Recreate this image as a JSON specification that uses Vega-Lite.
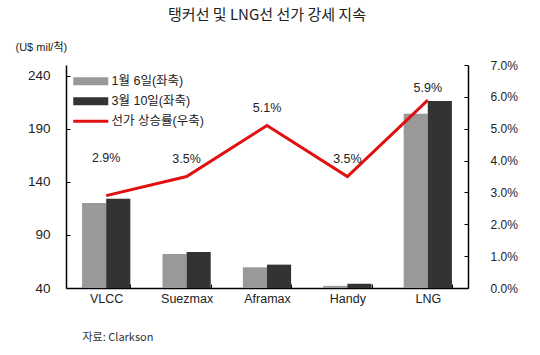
{
  "$schema": "https://vega.github.io/schema/vega-lite/v6.json",
  "width": 402,
  "height": 223,
  "autosize": "none",
  "padding": {"left": 66, "top": 65, "right": 72, "bottom": 67},
  "background": "white",
  "title": {
    "text": "탱커선 및 LNG선 선가 강세 지속",
    "font": "Noto Sans CJK KR",
    "fontSize": 15,
    "fontWeight": "normal",
    "color": "#222222",
    "anchor": "middle",
    "offset": 18
  },
  "datasets": {
    "bars": [
      {"ship": "VLCC", "series": "1월 6일(좌축)", "price": 120},
      {"ship": "VLCC", "series": "3월 10일(좌축)", "price": 124},
      {"ship": "Suezmax", "series": "1월 6일(좌축)", "price": 72},
      {"ship": "Suezmax", "series": "3월 10일(좌축)", "price": 74},
      {"ship": "Aframax", "series": "1월 6일(좌축)", "price": 59.5},
      {"ship": "Aframax", "series": "3월 10일(좌축)", "price": 62},
      {"ship": "Handy", "series": "1월 6일(좌축)", "price": 42},
      {"ship": "Handy", "series": "3월 10일(좌축)", "price": 44},
      {"ship": "LNG", "series": "1월 6일(좌축)", "price": 204},
      {"ship": "LNG", "series": "3월 10일(좌축)", "price": 216}
    ],
    "rate": [
      {"ship": "VLCC", "series": "선가 상승률(우축)", "rate": 0.029},
      {"ship": "Suezmax", "series": "선가 상승률(우축)", "rate": 0.035},
      {"ship": "Aframax", "series": "선가 상승률(우축)", "rate": 0.051},
      {"ship": "Handy", "series": "선가 상승률(우축)", "rate": 0.035},
      {"ship": "LNG", "series": "선가 상승률(우축)", "rate": 0.059}
    ]
  },
  "config": {
    "view": {"stroke": null},
    "axis": {
      "grid": false,
      "domainColor": "#000000",
      "tickColor": "#000000",
      "labelColor": "#222222",
      "labelFont": "Liberation Sans",
      "labelFontSize": 12.5
    }
  },
  "encoding": {
    "x": {
      "field": "ship",
      "type": "nominal",
      "sort": ["VLCC", "Suezmax", "Aframax", "Handy", "LNG"],
      "scale": {"paddingInner": 0.4, "paddingOuter": 0.2},
      "axis": {
        "labelAngle": 0,
        "labelPadding": 8,
        "labelFontSize": 12.5,
        "tickBand": "extent",
        "tickSize": -4,
        "domainWidth": 1.5,
        "title": "자료: Clarkson",
        "titleFont": "Noto Sans CJK KR",
        "titleFontSize": 11,
        "titleFontWeight": "normal",
        "titleColor": "#333333",
        "titleAlign": "left",
        "titleAnchor": "start",
        "titleBaseline": "middle",
        "titleX": 16,
        "titleY": 49
      }
    }
  },
  "layer": [
    {
      "data": {"name": "bars"},
      "mark": {"type": "bar"},
      "encoding": {
        "xOffset": {"field": "series", "type": "nominal", "scale": {"paddingInner": 0}},
        "y": {
          "field": "price",
          "type": "quantitative",
          "scale": {"domain": [40, 250], "nice": false, "zero": false},
          "axis": {
            "values": [40, 90, 140, 190, 240],
            "tickSize": -4,
            "labelPadding": 20,
            "labelFontSize": 13.5,
            "domainWidth": 1.5,
            "title": "(U$ mil/척)",
            "titleFont": "Liberation Sans, Noto Sans CJK KR",
            "titleFontSize": 11,
            "titleFontWeight": "normal",
            "titleColor": "#222222",
            "titleAngle": 0,
            "titleAlign": "left",
            "titleBaseline": "bottom",
            "titleX": -51,
            "titleY": -13
          }
        },
        "y2": {"datum": 40},
        "color": {
          "field": "series",
          "type": "nominal",
          "scale": {
            "domain": ["1월 6일(좌축)", "3월 10일(좌축)", "선가 상승률(우축)"],
            "range": ["#999999", "#333333", "#e01010"]
          },
          "legend": {
            "title": null,
            "orient": "none",
            "legendX": 6,
            "legendY": 10,
            "symbolSize": 100,
            "symbolStrokeWidth": 0,
            "symbolOpacity": 1,
            "labelFont": "Liberation Sans, Noto Sans CJK KR",
            "labelFontSize": 12.5,
            "labelColor": "#222222",
            "labelOffset": 27,
            "rowPadding": 7,
            "encode": {
              "symbols": {
                "update": {
                  "shape": {"signal": "datum.value === '선가 상승률(우축)' ? 'M-1,-0.28H6V0.28H-1Z' : 'M-1,-0.8H6V0.8H-1Z'"}
                }
              }
            }
          }
        }
      }
    },
    {
      "data": {"name": "rate"},
      "encoding": {
        "y": {
          "field": "rate",
          "type": "quantitative",
          "scale": {"domain": [0, 0.07], "nice": false},
          "axis": {
            "orient": "right",
            "values": [0, 0.01, 0.02, 0.03, 0.04, 0.05, 0.06, 0.07],
            "format": ".1%",
            "tickSize": -4,
            "labelPadding": 26,
            "labelFontSize": 12,
            "domainWidth": 1.5,
            "title": null
          }
        }
      },
      "layer": [
        {
          "mark": {"type": "line", "strokeWidth": 3, "color": "#e01010"},
          "encoding": {
            "color": {"field": "series", "type": "nominal"}
          }
        },
        {
          "transform": [{"filter": "datum.ship === 'VLCC'"}],
          "mark": {"type": "text", "dy": -38, "font": "Liberation Sans", "fontSize": 12.5, "color": "#222222"},
          "encoding": {"text": {"field": "rate", "type": "quantitative", "format": ".1%"}}
        },
        {
          "transform": [{"filter": "datum.ship === 'LNG'"}],
          "mark": {"type": "text", "dy": -12, "font": "Liberation Sans", "fontSize": 12.5, "color": "#222222"},
          "encoding": {"text": {"field": "rate", "type": "quantitative", "format": ".1%"}}
        },
        {
          "transform": [{"filter": "datum.ship !== 'VLCC' && datum.ship !== 'LNG'"}],
          "mark": {"type": "text", "dy": -18, "font": "Liberation Sans", "fontSize": 12.5, "color": "#222222"},
          "encoding": {"text": {"field": "rate", "type": "quantitative", "format": ".1%"}}
        }
      ]
    }
  ],
  "resolve": {"scale": {"y": "independent"}}
}
